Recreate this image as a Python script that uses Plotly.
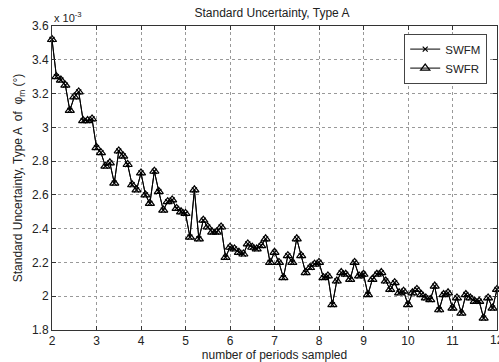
import plotly.graph_objects as go

# number of periods sampled
periods = [round(2.0 + 0.1 * i, 1) for i in range(101)]

# Standard uncertainty, type A (units of 1e-3 degrees)
swfm = [3.52, 3.30, 3.28, 3.25, 3.10, 3.18, 3.21, 3.04, 3.04, 3.05,
        2.88, 2.85, 2.77, 2.79, 2.67, 2.86, 2.83, 2.78, 2.66, 2.63,
        2.73, 2.60, 2.55, 2.74, 2.62, 2.51, 2.56, 2.57, 2.52, 2.50,
        2.49, 2.35, 2.63, 2.34, 2.45, 2.41, 2.38, 2.38, 2.41, 2.23,
        2.29, 2.28, 2.26, 2.25, 2.31, 2.29, 2.28, 2.30, 2.34, 2.20,
        2.26, 2.20, 2.11, 2.24, 2.20, 2.34, 2.24, 2.14, 2.17, 2.19,
        2.20, 2.11, 2.12, 1.95, 2.09, 2.14, 2.13, 2.10, 2.20, 2.12,
        2.13, 2.01, 2.10, 2.13, 2.14, 2.09, 2.04, 2.08, 2.02, 2.03,
        1.95, 2.02, 2.04, 2.01, 1.99, 1.98, 2.06, 1.92, 2.01, 2.02,
        1.93, 1.99, 1.90, 2.01, 1.99, 1.97, 1.97, 1.87, 1.99, 1.93,
        2.04]
swfr = list(swfm)

x_ticks = [2, 3, 4, 5, 6, 7, 8, 9, 10, 11]
x_last_tick = 12
y_ticks = [1.8, 2.0, 2.2, 2.4, 2.6, 2.8, 3.0, 3.2, 3.4, 3.6]
y_tick_text = ["1.8", "2", "2.2", "2.4", "2.6", "2.8", "3", "3.2", "3.4", "3.6"]

FONT = "Liberation Sans, Arial, sans-serif"

fig = go.Figure()
fig.add_trace(go.Scatter(
    x=periods, y=swfm, name="SWFM", mode="lines+markers",
    line=dict(color="black", width=1),
    marker=dict(symbol="x-thin-open", size=5, color="black",
                line=dict(color="black", width=1.2)),
    cliponaxis=False))
fig.add_trace(go.Scatter(
    x=periods, y=swfr, name="SWFR", mode="lines+markers",
    line=dict(color="black", width=1),
    marker=dict(symbol="triangle-up-open", size=8, color="black",
                line=dict(color="black", width=1.2)),
    cliponaxis=False))

axis_common = dict(
    showline=True, linecolor="#333", linewidth=1, mirror="ticks",
    ticks="inside", ticklen=4, tickcolor="#333",
    showgrid=True, gridcolor="#999", griddash="dot", gridwidth=1,
    zeroline=False, tickfont=dict(family=FONT, size=12, color="#222"),
)

fig.update_xaxes(range=[2, 12], tickvals=x_ticks + [x_last_tick],
                 ticktext=[str(t) for t in x_ticks] + [""],
                 title=dict(text="number of periods sampled",
                            font=dict(family=FONT, size=12, color="#222"),
                            standoff=2),
                 **axis_common)
fig.update_yaxes(range=[1.8, 3.6], tickvals=y_ticks, ticktext=y_tick_text,
                 title=dict(text="Standard Uncertainty, Type A  of  φ<sub>m</sub> (°)",
                            font=dict(family=FONT, size=12, color="#222"),
                            standoff=6),
                 **axis_common)

fig.update_layout(
    width=499, height=362,
    margin=dict(l=52, r=2, t=26, b=32),
    paper_bgcolor="white", plot_bgcolor="white",
    title=dict(text="Standard Uncertainty, Type A", x=0.545, xanchor="center",
               y=0.975, yanchor="top",
               font=dict(family=FONT, size=12, color="#222")),
    showlegend=True,
    legend=dict(x=0.978, y=0.975, xanchor="right", yanchor="top",
                bgcolor="white", bordercolor="#444", borderwidth=1,
                font=dict(family=FONT, size=11.5, color="#222"),
                itemwidth=30, tracegroupgap=0),
    annotations=[
        dict(text="x 10<sup>-3</sup>", xref="paper", yref="paper",
             x=0.0, y=1.0, xanchor="left", yanchor="bottom",
             showarrow=False,
             font=dict(family=FONT, size=11, color="#222")),
        dict(text=str(x_last_tick), xref="x", yref="paper",
             x=x_last_tick, y=0, xanchor="center", yanchor="top", yshift=-1,
             showarrow=False,
             font=dict(family=FONT, size=12, color="#222")),
    ],
)

fig.write_html("out.html")
